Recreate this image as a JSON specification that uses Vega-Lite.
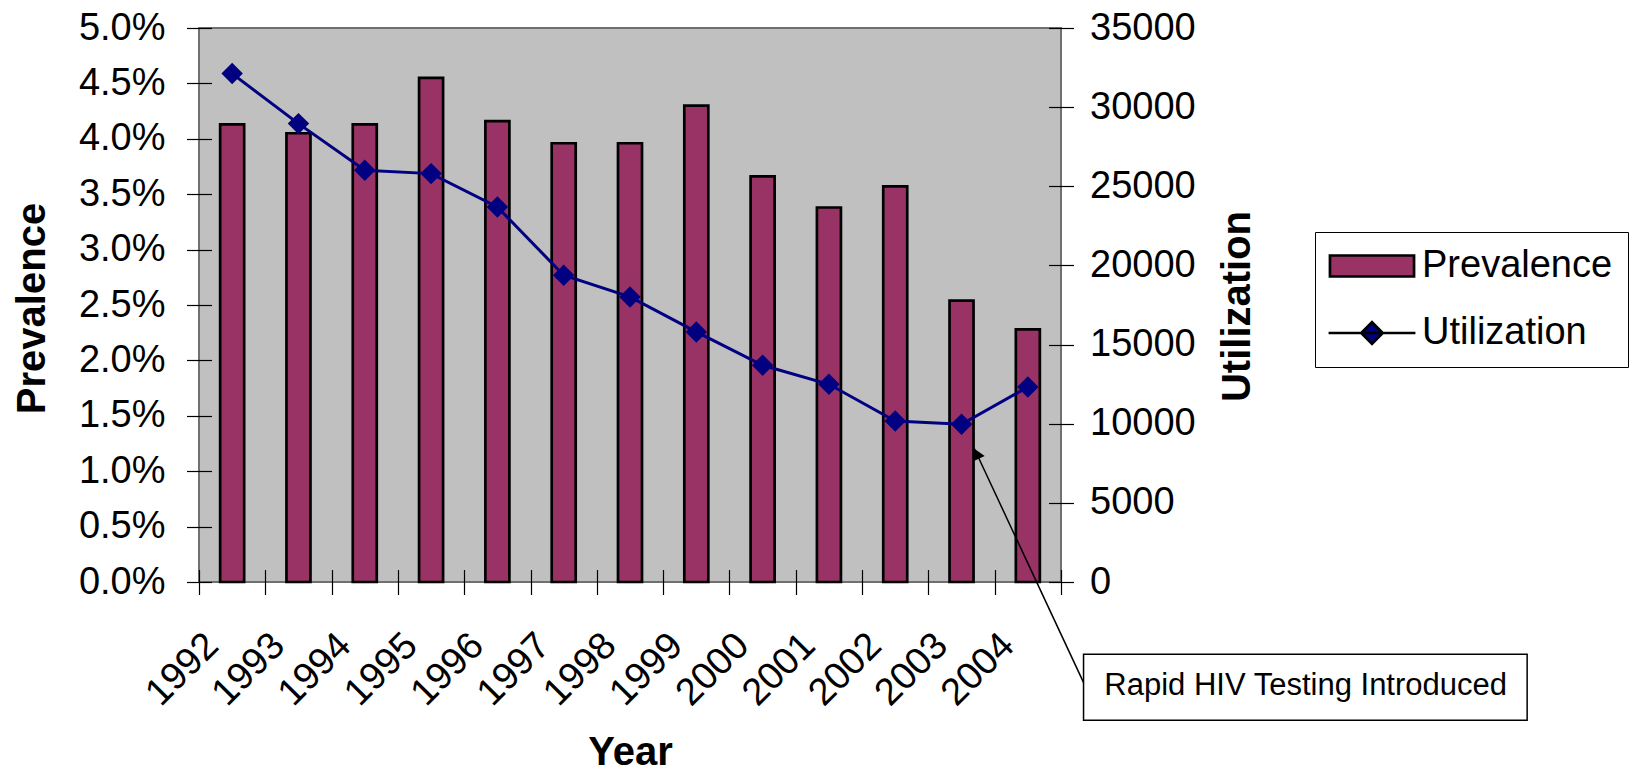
{
  "$schema": "https://vega.github.io/schema/vega-lite/v6.json",
  "width": 862,
  "height": 554,
  "autosize": {"type": "none"},
  "padding": {"left": 199, "top": 28, "right": 578, "bottom": 191},
  "background": "white",
  "config": {
    "font": "Liberation Sans",
    "view": {"fill": "#C0C0C0", "stroke": "#707070", "strokeWidth": 2},
    "axis": {
      "labelFont": "Liberation Sans",
      "labelFontSize": 38,
      "labelColor": "black",
      "titleFont": "Liberation Sans",
      "titleFontSize": 40,
      "titleFontWeight": "bold",
      "titleColor": "black",
      "domain": false,
      "grid": false,
      "tickColor": "black",
      "tickWidth": 1.2,
      "tickSize": 25,
      "offset": -12.5
    }
  },
  "datasets": {
    "prevalence": [
      {"Year": 1992, "Series": "Prevalence", "Value": 0.0413},
      {"Year": 1993, "Series": "Prevalence", "Value": 0.0405},
      {"Year": 1994, "Series": "Prevalence", "Value": 0.0413},
      {"Year": 1995, "Series": "Prevalence", "Value": 0.0455},
      {"Year": 1996, "Series": "Prevalence", "Value": 0.0416},
      {"Year": 1997, "Series": "Prevalence", "Value": 0.0396},
      {"Year": 1998, "Series": "Prevalence", "Value": 0.0396},
      {"Year": 1999, "Series": "Prevalence", "Value": 0.0430},
      {"Year": 2000, "Series": "Prevalence", "Value": 0.0366},
      {"Year": 2001, "Series": "Prevalence", "Value": 0.0338},
      {"Year": 2002, "Series": "Prevalence", "Value": 0.0357},
      {"Year": 2003, "Series": "Prevalence", "Value": 0.0254},
      {"Year": 2004, "Series": "Prevalence", "Value": 0.0228}
    ],
    "utilization": [
      {"Year": 1992, "Series": "Utilization", "Value": 32120},
      {"Year": 1993, "Series": "Utilization", "Value": 28960},
      {"Year": 1994, "Series": "Utilization", "Value": 26010},
      {"Year": 1995, "Series": "Utilization", "Value": 25800},
      {"Year": 1996, "Series": "Utilization", "Value": 23690},
      {"Year": 1997, "Series": "Utilization", "Value": 19380},
      {"Year": 1998, "Series": "Utilization", "Value": 18010},
      {"Year": 1999, "Series": "Utilization", "Value": 15800},
      {"Year": 2000, "Series": "Utilization", "Value": 13690},
      {"Year": 2001, "Series": "Utilization", "Value": 12490},
      {"Year": 2002, "Series": "Utilization", "Value": 10170},
      {"Year": 2003, "Series": "Utilization", "Value": 9960},
      {"Year": 2004, "Series": "Utilization", "Value": 12320}
    ],
    "note": [
      {
        "Note": "Rapid HIV Testing Introduced",
        "TipYear": 2003.19, "TipUtil": 8450,
        "HeadYear": 2003.224, "HeadUtil": 8110,
        "TailYear": 2004.86, "TailUtil": -6530,
        "BoxYearStart": 2004.84, "BoxYearEnd": 2011.53,
        "BoxUtilTop": -4570, "BoxUtilBottom": -8740,
        "TextYear": 2008.19, "TextUtil": -6600
      }
    ]
  },
  "layer": [
    {
      "data": {"name": "prevalence"},
      "mark": {"type": "bar", "stroke": "black", "strokeWidth": 2.7, "width": {"band": 0.362}},
      "encoding": {
        "x": {
          "field": "Year",
          "type": "ordinal",
          "scale": {"paddingInner": 0, "paddingOuter": 0},
          "axis": {
            "title": "Year",
            "tickBand": "extent",
            "labelAngle": -45,
            "labelAlign": "right",
            "labelBaseline": "middle",
            "labelPadding": 45,
            "labelOffset": -20,
            "titleX": 431,
            "titleY": 195,
            "titleAlign": "center",
            "titleBaseline": "alphabetic"
          }
        },
        "y": {
          "field": "Value",
          "type": "quantitative",
          "scale": {"domain": [0, 0.05], "nice": false},
          "axis": {
            "title": "Prevalence",
            "format": ".1%",
            "values": [0, 0.005, 0.01, 0.015, 0.02, 0.025, 0.03, 0.035, 0.04, 0.045, 0.05],
            "labelPadding": 21.5,
            "titleAngle": -90,
            "titleX": -167.5,
            "titleY": 280,
            "titleAlign": "center",
            "titleBaseline": "alphabetic"
          }
        },
        "color": {
          "field": "Series",
          "type": "nominal",
          "scale": {"domain": ["Prevalence", "Utilization"], "range": ["#993366", "#000080"]},
          "legend": {
            "title": null,
            "orient": "none",
            "legendX": 1116,
            "legendY": 204,
            "direction": "vertical",
            "labelFont": "Liberation Sans",
            "labelFontSize": 38,
            "labelColor": "black",
            "labelLimit": 400,
            "symbolSize": 460,
            "symbolOffset": 23,
            "labelOffset": 31,
            "rowPadding": 29,
            "padding": 15,
            "strokeColor": "black",
            "fillColor": "white",
            "symbolStrokeWidth": 2.7,
            "symbolOpacity": 1,
            "encode": {
              "symbols": {
                "update": {
                  "stroke": {"signal": "datum.value === 'Prevalence' ? 'black' : '#000080'"}
                }
              }
            }
          }
        }
      }
    },
    {
      "data": {"name": "utilization"},
      "encoding": {
        "x": {
          "field": "Year",
          "type": "ordinal",
          "scale": {"type": "point", "padding": 0.5},
          "axis": null
        },
        "y": {
          "field": "Value",
          "type": "quantitative",
          "scale": {"domain": [0, 35000], "nice": false},
          "axis": {
            "orient": "right",
            "title": "Utilization",
            "format": "d",
            "values": [0, 5000, 10000, 15000, 20000, 25000, 30000, 35000],
            "labelPadding": 16,
            "titleAngle": -90,
            "titleX": 200.5,
            "titleY": 278,
            "titleAlign": "center",
            "titleBaseline": "alphabetic"
          }
        }
      },
      "layer": [
        {"mark": {"type": "line", "color": "#000080", "strokeWidth": 3}},
        {
          "mark": {"type": "point", "filled": true, "size": 460, "opacity": 1, "strokeWidth": 0},
          "encoding": {
            "color": {"field": "Series", "type": "nominal"},
            "shape": {
              "field": "Series",
              "type": "nominal",
              "scale": {
                "domain": ["Prevalence", "Utilization"],
                "range": ["M-3.92,-0.98H3.92V0.98H-3.92Z", "M-4.05,0H4.05M0,-1L1,0L0,1L-1,0Z"]
              },
              "legend": {
                "title": null,
                "orient": "none",
                "legendX": 1116,
                "legendY": 204,
                "direction": "vertical",
                "labelFont": "Liberation Sans",
                "labelFontSize": 38,
                "labelColor": "black",
                "labelLimit": 400,
                "symbolSize": 460,
                "symbolOffset": 23,
                "labelOffset": 31,
                "rowPadding": 29,
                "padding": 15,
                "strokeColor": "black",
                "fillColor": "white",
                "symbolStrokeWidth": 2.7,
                "symbolOpacity": 1,
                "encode": {
                  "symbols": {
                    "update": {
                      "stroke": {"signal": "datum.value === 'Prevalence' ? 'black' : '#000080'"}
                    }
                  }
                }
              }
            }
          }
        }
      ]
    },
    {
      "data": {"name": "note"},
      "layer": [
        {
          "mark": {"type": "rule", "color": "black", "strokeWidth": 1.5},
          "encoding": {
            "x": {"field": "TailYear", "type": "quantitative", "scale": {"domain": [1991.5, 2004.5], "nice": false, "zero": false}, "axis": null},
            "y": {"field": "TailUtil", "type": "quantitative", "scale": {"domain": [0, 35000], "nice": false}, "axis": null},
            "x2": {"field": "TipYear"},
            "y2": {"field": "TipUtil"}
          }
        },
        {
          "mark": {"type": "point", "shape": "triangle-up", "filled": true, "color": "black", "size": 170, "angle": -25, "opacity": 1},
          "encoding": {
            "x": {"field": "HeadYear", "type": "quantitative", "scale": {"domain": [1991.5, 2004.5], "nice": false, "zero": false}, "axis": null},
            "y": {"field": "HeadUtil", "type": "quantitative", "scale": {"domain": [0, 35000], "nice": false}, "axis": null}
          }
        },
        {
          "mark": {"type": "rect", "fill": "white", "stroke": "black", "strokeWidth": 1.5},
          "encoding": {
            "x": {"field": "BoxYearStart", "type": "quantitative", "scale": {"domain": [1991.5, 2004.5], "nice": false, "zero": false}, "axis": null},
            "x2": {"field": "BoxYearEnd"},
            "y": {"field": "BoxUtilTop", "type": "quantitative", "scale": {"domain": [0, 35000], "nice": false}, "axis": null},
            "y2": {"field": "BoxUtilBottom"}
          }
        },
        {
          "mark": {"type": "text", "font": "Liberation Sans", "fontSize": 31, "align": "center", "baseline": "middle", "color": "black"},
          "encoding": {
            "x": {"field": "TextYear", "type": "quantitative", "scale": {"domain": [1991.5, 2004.5], "nice": false, "zero": false}, "axis": null},
            "y": {"field": "TextUtil", "type": "quantitative", "scale": {"domain": [0, 35000], "nice": false}, "axis": null},
            "text": {"field": "Note"}
          }
        }
      ]
    }
  ],
  "resolve": {"scale": {"x": "independent", "y": "independent"}}
}
